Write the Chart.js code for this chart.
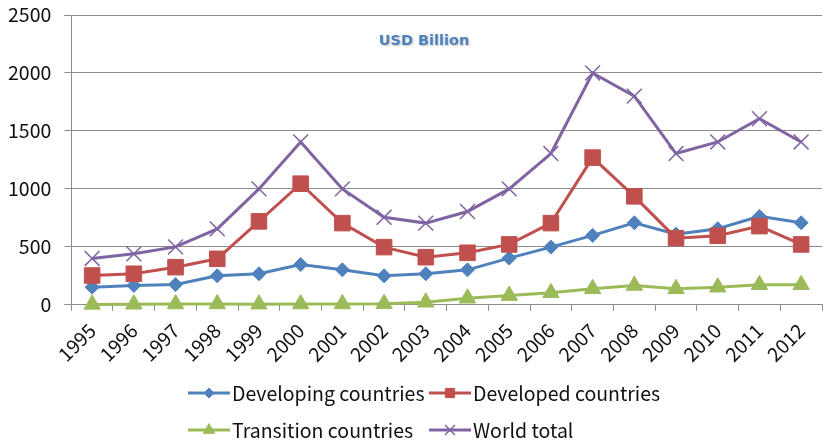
<!DOCTYPE html>
<html>
<head>
<meta charset="utf-8">
<script src="https://cdn.jsdelivr.net/npm/chart.js@4.4.1/dist/chart.umd.min.js"></script>
<style>
  html, body { margin: 0; padding: 0; background: #fff; overflow: hidden; }
  #wrap { position: absolute; left: 0; top: 0; width: 834px; height: 443px; }
</style>
</head>
<body>
<div id="wrap"><canvas id="chart" width="834" height="443"></canvas></div>
<script>
var years = ['1995', '1996', '1997', '1998', '1999', '2000', '2001', '2002', '2003',
             '2004', '2005', '2006', '2007', '2008', '2009', '2010', '2011', '2012'];
var developing = [152, 167, 175, 250, 268, 348, 302, 250, 268, 302, 403, 498, 599, 708, 610, 657, 763, 708];
var developed = [253, 268, 325, 397, 720, 1045, 705, 498, 411, 449, 521, 705, 1270, 936, 575, 596, 679, 521];
var transition = [4, 5, 7, 8, 6, 7, 8, 10, 22, 57, 80, 104, 138, 167, 138, 152, 173, 173];
var worldTotal = [400, 440, 500, 655, 1000, 1405, 1000, 755, 705, 805, 1000, 1305, 2000, 1800, 1305, 1405, 1605, 1405];
var yTicks = [0, 500, 1000, 1500, 2000, 2500];
var unitLabel = 'USD Billion';

var FONT = '"Noto Sans CJK KR", "Noto Sans", sans-serif';
var gridColor = '#8c8c8c';

function series(label, data, color, style, radius, order) {
    return {
        label: label,
        data: data,
        borderColor: color,
        backgroundColor: color,
        borderWidth: 3,
        pointStyle: style,
        pointRadius: radius,
        pointHoverRadius: radius,
        pointBackgroundColor: color,
        pointBorderColor: color,
        pointBorderWidth: style == 'crossRot' ? 1.5 : 1,
        tension: 0,
        fill: false,
        clip: false,
        order: order
    };
}

var datasets = [
    series('Developing countries', developing, '#4F81BD', 'rectRot', 7, 3),
    series('Developed countries', developed, '#C0504D', 'rect', 11, 2),
    series('Transition countries', transition, '#9BBB59', 'triangle', 9.5, 1),
    series('World total', worldTotal, '#8064A2', 'crossRot', 10.5, 0)
];

// small markers used in the legend
var legendRadius = { rectRot: 5, rect: 6.5, triangle: 6.5, crossRot: 7 };

var unitTitle = {
    id: 'unitTitle',
    afterDatasetsDraw(chart) {
        var ctx = chart.ctx;
        ctx.save();
        ctx.font = 'bold 14.5px "DejaVu Sans", sans-serif';
        ctx.textAlign = 'center';
        ctx.textBaseline = 'middle';
        ctx.shadowColor = 'rgba(0,0,0,0.25)';
        ctx.shadowOffsetX = 1;
        ctx.shadowOffsetY = 1;
        ctx.shadowBlur = 2;
        ctx.fillStyle = '#4F81BD';
        ctx.fillText(unitLabel, 424, 41);
        ctx.restore();
    }
};

var bottomLegend = {
    id: 'bottomLegend',
    afterDraw(chart) {
        var ctx = chart.ctx;
        var cols = [188, 429];
        var rows = [393, 430];
        chart.data.datasets.forEach((ds, i) => {
            var x = cols[i % 2];
            var y = rows[Math.floor(i / 2)];
            ctx.save();
            ctx.strokeStyle = ds.borderColor;
            ctx.lineWidth = 3;
            ctx.beginPath();
            ctx.moveTo(x, y);
            ctx.lineTo(x + 42, y);
            ctx.stroke();
            ctx.fillStyle = ds.borderColor;
            ctx.lineWidth = ds.pointBorderWidth;
            Chart.helpers.drawPoint(ctx, {
                pointStyle: ds.pointStyle,
                radius: legendRadius[ds.pointStyle],
                rotation: 0,
                borderWidth: ds.pointBorderWidth
            }, x + 21, y);
            ctx.fillStyle = '#111';
            ctx.font = '19.5px ' + FONT;
            ctx.textAlign = 'left';
            ctx.textBaseline = 'middle';
            ctx.fillText(ds.label, x + 44, y + 1);
            ctx.restore();
        });
    }
};

new Chart(document.getElementById('chart'), {
    type: 'line',
    data: {
        labels: years,
        datasets: datasets
    },
    plugins: [unitTitle, bottomLegend],
    options: {
        responsive: false,
        animation: false,
        layout: {
            padding: { left: -5, right: 1, top: 15, bottom: 69 }
        },
        plugins: {
            legend: { display: false },
            tooltip: { enabled: false },
            title: { display: false }
        },
        scales: {
            x: {
                offset: true,
                afterFit: (s) => { s.paddingLeft = 0; s.paddingRight = 0; },
                grid: {
                    display: true,
                    offset: true,
                    drawOnChartArea: false,
                    drawTicks: true,
                    tickLength: 6,
                    color: gridColor
                },
                border: { display: true, color: gridColor, width: 1 },
                ticks: {
                    color: '#111',
                    font: { family: FONT, size: 19.5 },
                    minRotation: 45,
                    maxRotation: 45,
                    autoSkip: false,
                    padding: 8
                }
            },
            y: {
                min: 0,
                max: 2500,
                afterBuildTicks: (scale) => {
                    scale.ticks = yTicks.map(v => ({ value: v }));
                },
                afterFit: (s) => { s.paddingTop = 0; s.paddingBottom = 0; },
                grid: {
                    color: gridColor,
                    tickLength: 7,
                    drawTicks: true
                },
                border: { display: true, color: gridColor, width: 1 },
                ticks: {
                    color: '#111',
                    font: { family: FONT, size: 19.5 },
                    padding: 13,
                    callback: (v) => String(v)
                }
            }
        }
    }
});
</script>
</body>
</html>
